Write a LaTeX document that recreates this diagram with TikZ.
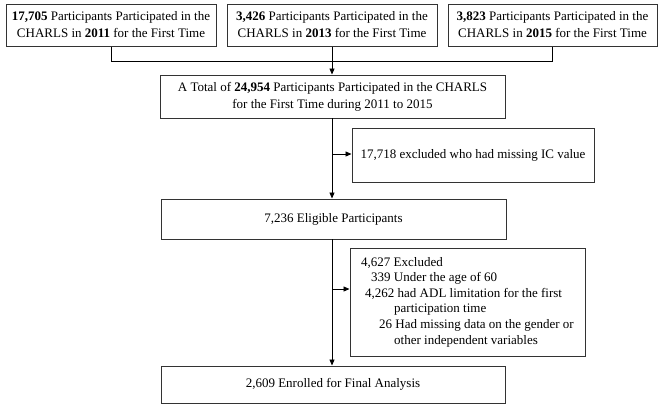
\documentclass[tikz,border=0pt]{standalone}
\usepackage{fontspec}
\setmainfont{Liberation Serif}
\usetikzlibrary{arrows.meta}
\begin{document}
\begin{tikzpicture}[x=1pt,y=-1pt,
  box/.style={draw=black!80, line width=1pt, align=center, inner sep=0pt,
    font=\fontsize{13}{17}\selectfont},
  arr/.style={draw=black, line width=0.9pt, -{Triangle[length=6pt,width=5pt]}},
  ln/.style={draw=black, line width=0.9pt}]
\useasboundingbox (0,0) rectangle (664,408);
\node[box, minimum width=210pt, minimum height=42pt] (b1) at (111,25)
  {\textbf{17,705} Participants Participated in the\\ CHARLS in \textbf{2011} for the First Time};
\node[box, minimum width=210pt, minimum height=42pt] (b2) at (332,25)
  {\textbf{3,426} Participants Participated in the\\ CHARLS in \textbf{2013} for the First Time};
\node[box, minimum width=209pt, minimum height=42pt] (b3) at (552.5,25)
  {\textbf{3,823} Participants Participated in the\\ CHARLS in \textbf{2015} for the First Time};
\node[box, minimum width=345pt, minimum height=43pt] (b4) at (332.5,96.5)
  {A Total of \textbf{24,954} Participants Participated in the CHARLS\\ for the First Time during 2011 to 2015};
\node[box, minimum width=242pt, minimum height=54pt] (b6) at (473,155)
  {17,718 excluded who had missing IC value};
\node[box, minimum width=345pt, minimum height=40pt] (b5) at (333.5,219)
  {7,236 Eligible Participants};
\node[box, minimum width=235pt, minimum height=108pt, align=left,
  font=\fontsize{13}{15.6}\selectfont] (b7) at (467.5,302)
  {\hspace*{0pt}4,627 Excluded\\
   \hspace*{10pt}339 Under the age of 60\\
   \hspace*{4pt}4,262 had ADL limitation for the first\\
   \hspace*{33pt}participation time\\
   \hspace*{18pt}26 Had missing data on the gender or\\
   \hspace*{33pt}other independent variables};
\node[box, minimum width=344pt, minimum height=37pt] (b8) at (333,384.5)
  {2,609 Enrolled for Final Analysis};
% top bracket
\coordinate (jl) at (b1.south |- 0,61);
\coordinate (jr) at (b3.south |- 0,61);
\draw[ln] (b1.south) -- (jl) -- (jr) -- (b3.south);
\draw[arr] (b2.south) -- (b2.south |- b4.north);
% second stage
\coordinate (v1) at (332,118);
\draw[arr] (v1) -- (v1 |- b5.north);
\coordinate (j1) at (332,154);
\draw[arr] (j1) -- (j1 -| b6.west);
% third stage
\coordinate (v2) at (332,239);
\draw[arr] (v2) -- (v2 |- b8.north);
\coordinate (j2) at (332,289);
\draw[arr] (j2) -- (j2 -| b7.west);
\end{tikzpicture}
\end{document}
